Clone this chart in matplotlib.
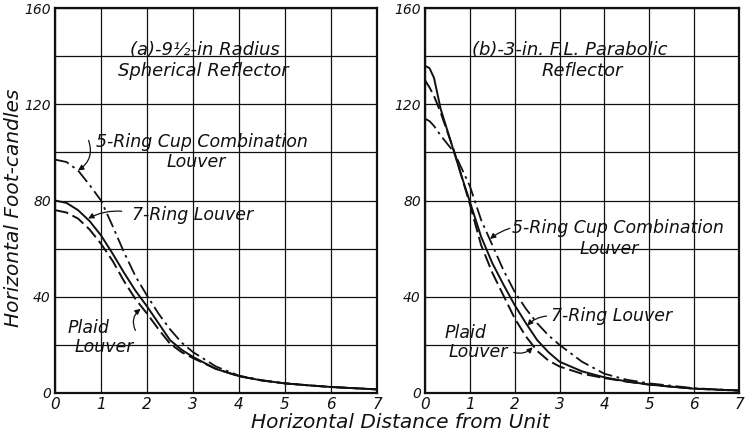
import matplotlib
matplotlib.use("Agg")
import matplotlib.pyplot as plt

# ---- data: horizontal foot-candles vs. horizontal distance from unit ----
# (a) 9 1/2-in radius spherical reflector
xa = [0, 0.25, 0.5, 0.75, 1.0, 1.25, 1.5, 1.75, 2.0, 2.25, 2.5, 2.75, 3.0,
      3.5, 4.0, 4.5, 5.0, 5.5, 6.0, 6.5, 7.0]
a_seven_ring = [80, 79, 76, 71.5, 65.5, 58, 50, 42.5, 36, 29, 22, 18, 15,
                10, 7, 5.2, 4, 3.2, 2.5, 2, 1.5]
a_plaid = [76, 75, 72.5, 68, 62, 55, 46.5, 39, 33, 26.5, 20.5, 17, 14.5,
           10, 7, 5.2, 4, 3.2, 2.5, 2, 1.5]
a_five_ring = [97, 96, 92.5, 86.5, 80, 69.5, 58.5, 48.5, 40.5, 33, 26.5, 21, 17,
               11, 7.2, 5.3, 4, 3.2, 2.5, 2, 1.5]

# (b) 3-in. F.L. parabolic reflector
xb = [0, 0.1, 0.2, 0.35, 0.5, 0.65, 0.8, 1.0, 1.25, 1.5, 1.75, 2.0, 2.25,
      2.5, 2.75, 3.0, 3.5, 4.0, 4.5, 5.0, 5.5, 6.0, 6.5, 7.0]
b_seven_ring = [136, 135, 131, 118, 109, 100, 91, 79.5, 65, 54, 45, 36.5, 29,
                22, 17, 13, 9, 6.5, 4.8, 3.5, 2.6, 1.8, 1.4, 1.0]
b_plaid = [130, 127, 123.5, 116.5, 108.5, 100.5, 91, 78.5, 61.5, 50, 40.5, 31, 23.5,
           17.5, 13.5, 11, 8, 6.2, 4.7, 3.5, 2.6, 1.8, 1.4, 1.0]
b_five_ring = [114, 113, 111, 107, 103.5, 100, 94, 86, 72, 61.5, 51, 42, 35,
               29, 24, 20, 13, 8, 5.5, 4, 3, 2, 1.5, 1.1]

x_ticks = [0, 1, 2, 3, 4, 5, 6, 7]
y_ticks = [0, 40, 80, 120, 160]

INK = "#111111"
W, H = 746, 434
fig = plt.figure(figsize=(W / 100, H / 100), dpi=100)
fig.patch.set_facecolor("white")

ax_a = fig.add_axes([55 / W, 1 - 393 / H, 322 / W, 385 / H])
ax_b = fig.add_axes([425 / W, 1 - 393 / H, 314 / W, 385 / H])

txt = dict(color=INK, style="italic", family="DejaVu Sans")
solid = dict(color=INK, lw=1.4, linestyle="-")
dashed = dict(color=INK, lw=1.4, linestyle=(0, (7, 2.5)))
dashdot = dict(color=INK, lw=1.3, linestyle=(0, (8, 2.5, 1.5, 2.5)))

for ax in (ax_a, ax_b):
    ax.set_xlim(0, 7)
    ax.set_ylim(0, 160)
    ax.set_xticks(range(0, 8))
    ax.set_yticks(range(0, 161, 20))
    ax.grid(True, color=INK, lw=0.9)
    ax.set_axisbelow(True)
    ax.tick_params(length=0, pad=3)
    ax.set_xticklabels([str(v) for v in x_ticks], fontsize=11, **txt)
    ax.set_yticklabels([str(v) if v in y_ticks else "" for v in range(0, 161, 20)],
                       fontsize=10, **txt)
    for s in ax.spines.values():
        s.set_color(INK)
        s.set_linewidth(1.6)

arrow = dict(arrowstyle="-|>", color=INK, lw=0.9, mutation_scale=8,
             shrinkA=1, shrinkB=0)
LBL = 12.5
TTL = 13

# ---- panel (a) ----
ax_a.plot(xa, a_seven_ring, **solid)
ax_a.plot(xa, a_plaid, **dashed)
ax_a.plot(xa, a_five_ring, **dashdot)

ax_a.text(3.26, 142.5, "(a)-9½-in Radius", ha="center", va="center", fontsize=TTL, **txt)
ax_a.text(3.22, 134, "Spherical Reflector", ha="center", va="center", fontsize=TTL, **txt)
ax_a.text(3.2, 104.3, "5-Ring Cup Combination", ha="center", va="center", fontsize=LBL, **txt)
ax_a.text(3.07, 96, "Louver", ha="center", va="center", fontsize=LBL, **txt)
ax_a.annotate("", xy=(0.5, 92.5), xytext=(0.72, 105.5),
              arrowprops=dict(connectionstyle="arc3,rad=-0.4", **arrow))
ax_a.text(3.0, 74, "7-Ring Louver", ha="center", va="center", fontsize=LBL, **txt)
ax_a.annotate("", xy=(0.72, 72.5), xytext=(1.48, 75.5),
              arrowprops=dict(connectionstyle="arc3,rad=0.15", **arrow))
ax_a.text(0.72, 27, "Plaid", ha="center", va="center", fontsize=LBL, **txt)
ax_a.text(1.06, 19, "Louver", ha="center", va="center", fontsize=LBL, **txt)
ax_a.annotate("", xy=(1.86, 35), xytext=(1.76, 25.5),
              arrowprops=dict(connectionstyle="arc3,rad=-0.4", **arrow))

# ---- panel (b) ----
ax_b.plot(xb, b_seven_ring, **solid)
ax_b.plot(xb, b_plaid, **dashed)
ax_b.plot(xb, b_five_ring, **dashdot)

ax_b.text(3.22, 142.5, "(b)-3-in. F.L. Parabolic", ha="center", va="center", fontsize=TTL, **txt)
ax_b.text(3.5, 134, "Reflector", ha="center", va="center", fontsize=TTL, **txt)
ax_b.text(4.3, 68.6, "5-Ring Cup Combination", ha="center", va="center", fontsize=LBL, **txt)
ax_b.text(4.1, 60, "Louver", ha="center", va="center", fontsize=LBL, **txt)
ax_b.annotate("", xy=(1.45, 64), xytext=(1.92, 68.6),
              arrowprops=dict(connectionstyle="arc3,rad=0.1", **arrow))
ax_b.text(4.15, 32, "7-Ring Louver", ha="center", va="center", fontsize=LBL, **txt)
ax_b.annotate("", xy=(2.28, 28), xytext=(2.74, 32),
              arrowprops=dict(connectionstyle="arc3,rad=0.2", **arrow))
ax_b.text(0.9, 25, "Plaid", ha="center", va="center", fontsize=LBL, **txt)
ax_b.text(1.18, 17, "Louver", ha="center", va="center", fontsize=LBL, **txt)
ax_b.annotate("", xy=(2.4, 19), xytext=(1.95, 17),
              arrowprops=dict(connectionstyle="arc3,rad=0.3", **arrow))

# ---- shared axis titles ----
fig.text(400 / W, 1 - 423 / H, "Horizontal Distance from Unit", ha="center", va="center",
         fontsize=14.5, **txt)
fig.text(14 / W, 1 - 208 / H, "Horizontal Foot-candles", ha="center", va="center",
         rotation=90, fontsize=14.5, **txt)

fig.savefig("out.png", dpi=100, facecolor="white")
